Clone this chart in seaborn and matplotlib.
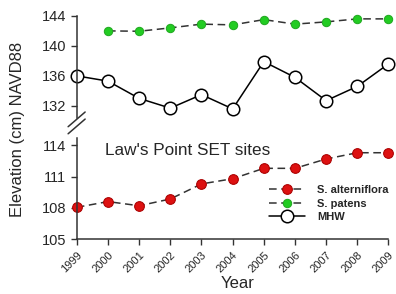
import numpy as np
import pandas as pd
import seaborn as sns
import matplotlib.pyplot as plt

years = list(range(1999, 2010))
mhw = [136.0, 135.3, 133.0, 131.7, 133.5, 131.6, 137.9, 135.8, 132.7, 134.6, 137.6]
patens_years = list(range(2000, 2010))
patens = [142.0, 141.95, 142.4, 142.9, 142.8, 143.5, 142.9, 143.2, 143.6, 143.6]
alterniflora = [108.05, 108.6, 108.2, 108.85, 110.3, 110.8, 111.8, 111.8, 112.7, 113.3, 113.3]

sns.set_style("ticks")
plt.rcParams["font.family"] = ["Liberation Sans", "DejaVu Sans"]

fig = plt.figure(figsize=(3.96, 2.94), dpi=100)
ax_top = fig.add_axes([0.194, 0.599, 0.787, 0.347])
ax_bot = fig.add_axes([0.194, 0.187, 0.787, 0.343])

line_col = "#333333"

# upper panel: MHW and S. patens
sns.lineplot(x=patens_years, y=patens, ax=ax_top, color=line_col, lw=1.1,
             linestyle=(0, (5, 3)), marker="o", markersize=6,
             markerfacecolor="#22cc22", markeredgecolor="#22aa22", clip_on=False,
             label="S. patens", legend=False)
sns.lineplot(x=years, y=mhw, ax=ax_top, color="black", lw=1.1,
             marker="o", markersize=9, markerfacecolor="white",
             markeredgecolor="black", markeredgewidth=1.1, clip_on=False,
             label="MHW", legend=False)

# lower panel: S. alterniflora
sns.lineplot(x=years, y=alterniflora, ax=ax_bot, color=line_col, lw=1.1,
             linestyle=(0, (5, 3)), marker="o", markersize=7,
             markerfacecolor="#dd1111", markeredgecolor="#aa0000", clip_on=False,
             label="S. alterniflora", legend=False)

ax_top.set_xlim(1999, 2009)
ax_bot.set_xlim(1999, 2009)
ax_top.set_ylim(130.4, 144)
ax_bot.set_ylim(105, 114.7)
ax_top.set_yticks([132, 136, 140, 144])
ax_bot.set_yticks([105, 108, 111, 114])
ax_bot.set_xticks(years)
ax_bot.set_xticklabels([str(y) for y in years], rotation=45, ha="right",
                       rotation_mode="anchor", fontsize=8)

for ax in (ax_top, ax_bot):
    ax.tick_params(axis="y", labelsize=10.5, length=4, width=1, color=line_col)
    ax.tick_params(axis="x", length=4, width=1, color=line_col)
    for s in ax.spines.values():
        s.set_color(line_col)
        s.set_linewidth(1.1)
    ax.set_xlabel("")
    ax.set_ylabel("")
    ax.patch.set_alpha(0)

sns.despine(ax=ax_bot)
sns.despine(ax=ax_top, bottom=True)
ax_top.set_xticks([])

# break marks on y axis
for dy in (0.0, 0.024):
    fig.add_artist(plt.Line2D([0.172, 0.215], [0.545 + dy, 0.595 + dy],
                              color=line_col, lw=1.1, transform=fig.transFigure))

fig.text(0.045, 0.56, "Elevation (cm) NAVD88", rotation=90, ha="center",
         va="center", fontsize=12)
fig.text(0.60, 0.035, "Year", ha="center", va="center", fontsize=12)
ax_bot.text(1999.9, 113.5, "Law's Point SET sites", fontsize=12.3, va="center")

handles = ax_bot.get_lines()[:1] + ax_top.get_lines()[:2]
labels = ["S. alterniflora", "S. patens", "MHW"]
fig.legend(handles, labels, loc="upper left", bbox_to_anchor=(0.655, 0.404),
           frameon=False, handlelength=3.2, handletextpad=1.1, labelspacing=0.3,
           prop={"weight": "bold", "size": 8})

fig.savefig("out.png", dpi=100)
